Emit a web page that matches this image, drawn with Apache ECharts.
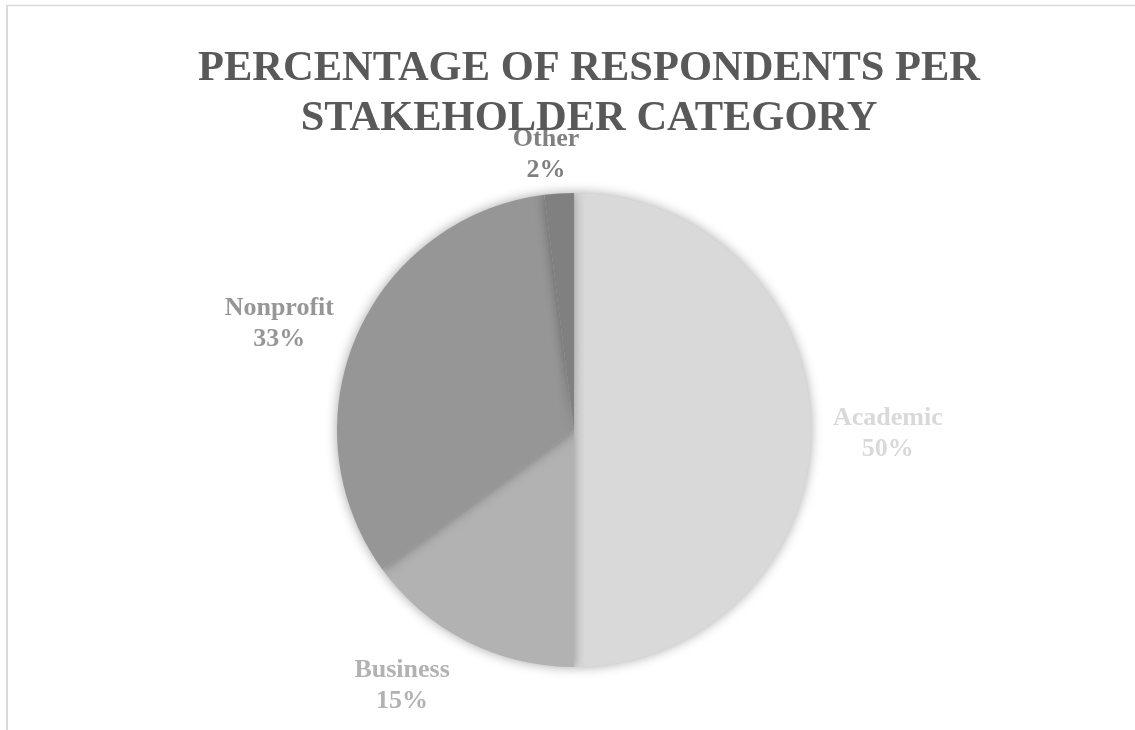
<!DOCTYPE html>
<html><head><meta charset="utf-8">
<script src="https://cdn.jsdelivr.net/npm/echarts@6/dist/echarts.min.js"></script>
<style>html,body{margin:0;padding:0;background:#fff}#c{width:1135px;height:730px}</style>
</head><body><div id="c"></div>
<script>
const titleText = 'PERCENTAGE OF RESPONDENTS PER\nSTAKEHOLDER CATEGORY';
const categories = ['Academic', 'Business', 'Nonprofit', 'Other'];
const values = [50, 15, 33, 2];
const colors = ['#d9d9d9', '#b2b2b2', '#969696', '#808080'];
const labelNudge = [[-13, 4], [2, 18], [10, 0], [27, -9]];

const chart = echarts.init(document.getElementById('c'), null, {renderer: 'canvas'});
chart.setOption({
  animation: false,
  backgroundColor: '#fff',
  title: {
    text: titleText,
    left: 584, top: 39, textAlign: 'center',
    textStyle: {fontFamily: 'Liberation Serif', fontWeight: 'bold', fontSize: 42.5, lineHeight: 50, color: '#595959'}
  },
  graphic: [
    {type: 'line', shape: {x1: 7, y1: 5, x2: 7, y2: 730}, style: {stroke: '#d9d9d9', lineWidth: 2}},
    {type: 'line', shape: {x1: 6, y1: 5.5, x2: 1135, y2: 5.5}, style: {stroke: '#d9d9d9', lineWidth: 1.5}}
  ],
  series: [{
    type: 'pie',
    center: [574, 430],
    radius: 237,
    startAngle: 90,
    clockwise: true,
    data: categories.map((n, i) => ({name: n, value: values[i], itemStyle: {color: colors[i]}, label: {color: colors[i]}})),
    itemStyle: {shadowBlur: 12, shadowColor: 'rgba(0,0,0,0.35)'},
    label: {
      show: true, position: 'outside',
      formatter: p => p.name + '\n' + Math.round(p.percent) + '%',
      fontFamily: 'Liberation Serif', fontWeight: 'bold', fontSize: 26, lineHeight: 31
    },
    labelLine: {show: false, length: 30, length2: 0},
    labelLayout: p => ({
      x: p.labelRect.x + p.labelRect.width / 2 + labelNudge[p.dataIndex][0],
      y: p.labelRect.y + p.labelRect.height / 2 + labelNudge[p.dataIndex][1],
      align: 'center', verticalAlign: 'middle'
    }),
    emphasis: {disabled: true}
  }]
});
</script></body></html>
